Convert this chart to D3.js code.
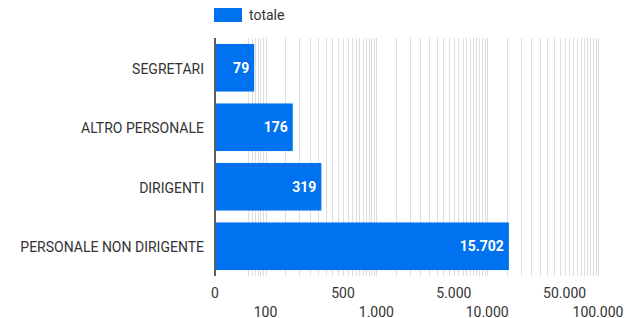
<!DOCTYPE html>
<html><head><meta charset="utf-8">
<script src="https://cdn.jsdelivr.net/npm/d3@7"></script>
<style>
html,body{margin:0;padding:0;background:#fff;}
text{font-family:Roboto, "Noto Sans", sans-serif;}
</style></head>
<body><svg id="c" width="627" height="318"></svg>
<script>
const categories = ["SEGRETARI", "ALTRO PERSONALE", "DIRIGENTI", "PERSONALE NON DIRIGENTE"];
const values = [79, 176, 319, 15702];
const seriesName = "totale";
const tickRow1 = [0, 500, 5000, 50000];
const tickRow2 = [100, 1000, 10000, 100000];

const loc = d3.formatLocale({decimal: ",", thousands: ".", grouping: [3], currency: ["€", ""]});
const fmt = loc.format(",d");

const svg = d3.select("#c");
const pLeft = 215, pRight = 598, pTop = 38, pBottom = 276;
const color = "#0072f0";
const fs = 14;

const x = d3.scaleLog().domain([35, 100000]).range([pLeft, pRight]);
const xp = v => v <= 0 ? x.range()[0] : x(v);
const y = d3.scaleBand().domain(categories).range([pTop, pBottom]).paddingInner(0.2).paddingOuter(0.1);

// gridlines
const grid = [];
[[70, 100, 5], [150, 1000, 50], [1500, 10000, 500], [15000, 100000, 5000]].forEach(([a, b, s]) => {
  for (let v = a; v <= b + 1e-9; v += s) grid.push(v);
});
svg.append("g").selectAll("line").data(grid).join("line")
  .attr("x1", d => Math.round(x(d)) + 0.5).attr("x2", d => Math.round(x(d)) + 0.5)
  .attr("y1", pTop).attr("y2", pBottom)
  .attr("stroke", "#dedede").attr("stroke-width", 1);

// bars
svg.append("g").selectAll("rect").data(values).join("rect")
  .attr("x", pLeft).attr("y", (d, i) => y(categories[i]))
  .attr("width", d => x(d) - pLeft).attr("height", y.bandwidth())
  .attr("fill", color);

// value labels
svg.append("g").selectAll("text").data(values).join("text")
  .attr("x", d => x(d) - 5).attr("y", (d, i) => y(categories[i]) + y.bandwidth() / 2)
  .attr("dy", "0.35em").attr("text-anchor", "end")
  .attr("fill", "#fff").attr("font-weight", "bold").attr("font-size", fs)
  .text(d => fmt(d));

// left axis line
svg.append("line").attr("x1", pLeft).attr("x2", pLeft).attr("y1", pTop).attr("y2", pBottom)
  .attr("stroke", "#5f5f5f").attr("stroke-width", 2);

// category labels
svg.append("g").selectAll("text").data(categories).join("text")
  .attr("x", 204).attr("y", d => y(d) + y.bandwidth() / 2 + 1).attr("dy", "0.35em")
  .attr("text-anchor", "end").attr("fill", "#333").attr("font-size", fs)
  .text(d => d);

// x tick labels (staggered)
svg.append("g").selectAll("text").data(tickRow1).join("text")
  .attr("x", d => xp(d)).attr("y", 297.5).attr("text-anchor", "middle")
  .attr("fill", "#333").attr("font-size", fs).text(d => fmt(d));
svg.append("g").selectAll("text").data(tickRow2).join("text")
  .attr("x", d => xp(d)).attr("y", 317).attr("text-anchor", "middle")
  .attr("fill", "#333").attr("font-size", fs).text(d => fmt(d));

// legend
svg.append("rect").attr("x", 214).attr("y", 8).attr("width", 28).attr("height", 14).attr("fill", color);
svg.append("text").attr("x", 249).attr("y", 15).attr("dy", "0.35em").attr("fill", "#333")
  .attr("font-size", fs).text(seriesName);
</script></body></html>
